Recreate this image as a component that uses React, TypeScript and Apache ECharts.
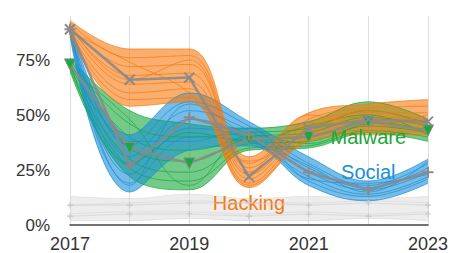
import React, { useEffect, useRef } from "react";
import * as echarts from "echarts";

const years = ["2017", "2018", "2019", "2020", "2021", "2022", "2023"];
const yTicks = [0, 25, 50, 75];

const hackingMean = [89, 66, 67, 22, 44, 48, 47];
const socialMean = [89, 27, 49, 41, 24, 16, 24];
const malwareMean = [73, 35, 28, 39, 40, 47, 43];
const otherMeanA = [9, 9, 10, 10, 9, 10, 9];
const otherMeanB = [4, 5, 5, 4, 5, 4, 5];

const hackingSamples = [
  [93, 80, 80, 31, 51, 55, 57],
  [92, 76, 77, 28, 48, 53, 54],
  [91, 72, 73, 26, 46, 51, 51],
  [90, 68, 69, 23, 44, 49, 48],
  [89, 64, 65, 21, 43, 47, 46],
  [88, 60, 62, 19, 41, 45, 44],
  [87, 57, 58, 18, 39, 43, 42],
  [86, 54, 56, 17, 38, 41, 41],
  [91, 66, 75, 24, 50, 46, 50],
  [88, 74, 60, 29, 42, 52, 45],
];
const socialSamples = [
  [92, 41, 60, 47, 31, 20, 30],
  [91, 36, 56, 45, 28, 18, 28],
  [90, 31, 52, 43, 26, 17, 26],
  [89, 27, 48, 41, 24, 16, 24],
  [88, 23, 44, 39, 22, 14, 22],
  [87, 19, 40, 38, 20, 13, 21],
  [86, 15, 34, 36, 18, 11, 19],
  [90, 18, 55, 40, 27, 15, 29],
  [88, 38, 38, 44, 21, 19, 23],
];
const malwareSamples = [
  [76, 52, 46, 44, 47, 56, 48],
  [75, 46, 40, 42, 44, 52, 46],
  [74, 40, 34, 40, 42, 49, 45],
  [73, 35, 29, 39, 40, 47, 43],
  [72, 30, 24, 37, 38, 45, 42],
  [71, 26, 20, 35, 36, 43, 40],
  [70, 22, 16, 34, 35, 42, 38],
  [74, 28, 42, 38, 45, 50, 41],
  [71, 48, 18, 41, 37, 46, 47],
];
const otherSamples = [
  [13, 12, 14, 12, 13, 12, 13],
  [9, 10, 11, 10, 10, 11, 10],
  [5, 6, 6, 5, 6, 5, 6],
  [2, 2, 3, 2, 2, 3, 2],
];

const ORANGE = "#f7790f";
const BLUE = "#1b8fd8";
const GREEN = "#18a83b";
const MEANGRAY = "#8a8a8a";
const FONT = "Liberation Sans, Arial, Helvetica, sans-serif";
const SMOOTH = 0.4;

function bandSeries(name: string, samples: number[][], color: string, opacity: number) {
  const low = years.map((_, i) => Math.min(...samples.map((s) => s[i])));
  const high = years.map((_, i) => Math.max(...samples.map((s) => s[i])));
  const base = {
    type: "line",
    name: name + "-base",
    stack: name,
    smooth: SMOOTH,
    symbol: "none",
    silent: true,
    lineStyle: { width: 0, color },
    data: low,
  };
  const band = {
    type: "line",
    name: name + "-band",
    stack: name,
    smooth: SMOOTH,
    symbol: "none",
    silent: true,
    lineStyle: { width: 0, color },
    areaStyle: { color, opacity },
    data: high.map((h, i) => h - low[i]),
  };
  return [base, band];
}

function sampleSeries(name: string, samples: number[][], color: string, opacity: number, width: number) {
  return samples.map((s, k) => ({
    type: "line",
    name: name + "-s" + k,
    smooth: SMOOTH,
    symbol: "none",
    silent: true,
    lineStyle: { color, width, opacity },
    data: s,
  }));
}

function meanSeries(name: string, data: number[], symbol: string, symbolSize: number, itemStyle: any, label?: any, extra?: any) {
  const s: any = {
    type: "line",
    name,
    symbol,
    symbolSize,
    showSymbol: true,
    silent: true,
    lineStyle: { color: MEANGRAY, width: 2.5, opacity: 0.9 },
    itemStyle,
    data,
    z: 5,
    ...(extra || {}),
  };
  if (label) {
    s.markPoint = {
      symbol: "circle",
      symbolSize: 1,
      itemStyle: { color: "rgba(0,0,0,0)" },
      silent: true,
      label: {
        show: true,
        position: "inside",
        formatter: label.text,
        color: label.color,
        fontSize: 20,
        fontFamily: FONT,
      },
      data: [{ coord: label.coord }],
    };
  }
  return s;
}

export default function App() {
  const ref = useRef<HTMLDivElement>(null);
  useEffect(() => {
    if (!ref.current) return;
    const chart = echarts.init(ref.current, undefined, { renderer: "svg" });
    const plus = "path://M5,0L5,10M0,5L10,5";
    const series: any[] = [
      ...bandSeries("other", otherSamples, "#dcdcdc", 0.5),
      ...sampleSeries("other", otherSamples, "#d2d2d2", 0.5, 1),
      meanSeries("otherA", otherMeanA, plus, 6, { color: "#c8c8c8", borderColor: "#c8c8c8", borderWidth: 1.2 }, null, { lineStyle: { color: "#d0d0d0", width: 1.2, opacity: 0.6 } }),
      meanSeries("otherB", otherMeanB, plus, 6, { color: "#c8c8c8", borderColor: "#c8c8c8", borderWidth: 1.2 }, null, { lineStyle: { color: "#d0d0d0", width: 1.2, opacity: 0.6 } }),
      ...bandSeries("malware", malwareSamples, GREEN, 0.6),
      ...sampleSeries("malware", malwareSamples, GREEN, 0.8, 0.9),
      ...bandSeries("social", socialSamples, BLUE, 0.6),
      ...sampleSeries("social", socialSamples, BLUE, 0.8, 0.9),
      ...bandSeries("hacking", hackingSamples, ORANGE, 0.6),
      ...sampleSeries("hacking", hackingSamples, ORANGE, 0.8, 0.9),
      meanSeries(
        "Malware",
        malwareMean,
        "triangle",
        11,
        { color: GREEN, borderColor: MEANGRAY, borderWidth: 1 },
        { text: "Malware", color: GREEN, coord: ["2022", 40] },
        { symbolRotate: 180 }
      ),
      meanSeries(
        "Social",
        socialMean,
        plus,
        11,
        { color: MEANGRAY, borderColor: MEANGRAY, borderWidth: 2 },
        { text: "Social", color: BLUE, coord: ["2022", 24] }
      ),
      meanSeries(
        "Hacking",
        hackingMean,
        "path://M0,0L10,10M10,0L0,10",
        10,
        { color: MEANGRAY, borderColor: MEANGRAY, borderWidth: 2 },
        { text: "Hacking", color: ORANGE, coord: ["2020", 10] }
      ),
    ];
    chart.setOption({
      animation: false,
      backgroundColor: "#ffffff",
      grid: { left: 70, right: 23, top: 16, bottom: 27, containLabel: false },
      xAxis: {
        type: "category",
        data: years,
        boundaryGap: false,
        axisLine: { show: true, lineStyle: { color: "#444", width: 1.5 } },
        axisTick: { show: false },
        axisLabel: {
          margin: 10,
          fontSize: 18,
          color: "#333",
          fontFamily: FONT,
          interval: 1,
        },
        splitLine: { show: true, interval: 0, lineStyle: { color: "#dedede", width: 1 } },
      },
      yAxis: {
        type: "value",
        min: yTicks[0],
        max: 95,
        interval: 25,
        axisLine: { show: false },
        axisTick: { show: false },
        splitLine: { show: false },
        axisLabel: {
          margin: 20,
          fontSize: 17,
          color: "#333",
          fontFamily: FONT,
          showMaxLabel: false,
          formatter: (v: number) => (yTicks.includes(v) ? v + "%" : ""),
        },
      },
      series,
    });
    return () => chart.dispose();
  }, []);
  return <div ref={ref} style={{ width: 451, height: 253, position: "absolute", left: 0, top: 0 }} />;
}
